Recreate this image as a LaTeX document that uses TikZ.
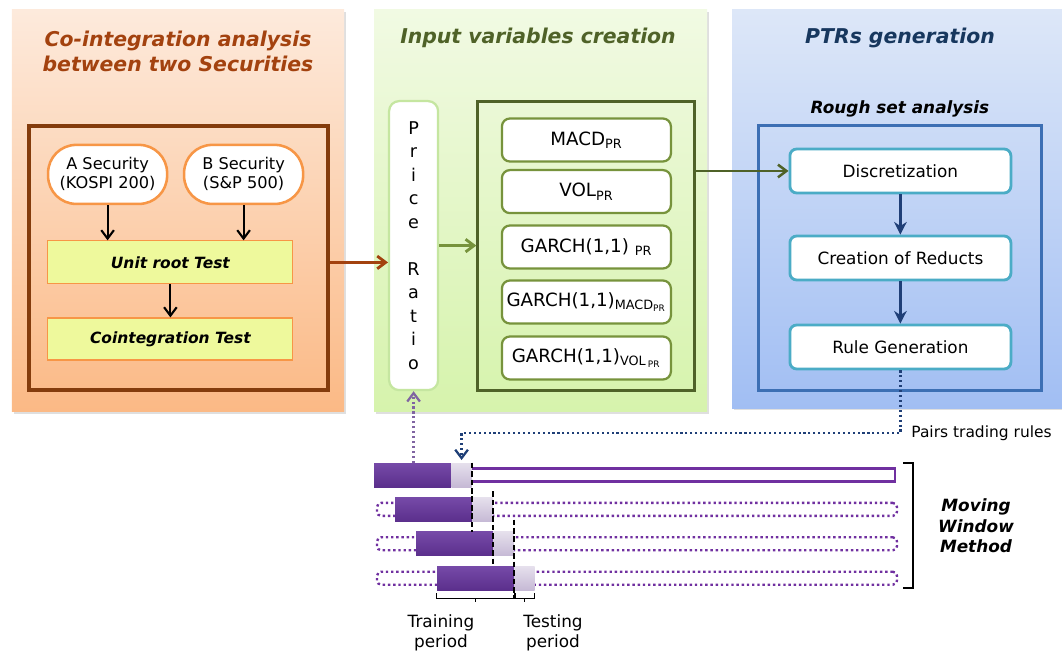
\documentclass[tikz,border=0pt]{standalone}
\usepackage{fontspec}
\setmainfont{DejaVu Sans}
\usepackage{xcolor}
\usetikzlibrary{positioning,arrows.meta,shadows}

\definecolor{peachtop}{HTML}{FDEADC}
\definecolor{peachbot}{HTML}{FBB985}
\definecolor{limetop}{HTML}{F1FAE3}
\definecolor{limebot}{HTML}{D6F3AC}
\definecolor{skytop}{HTML}{DDE7F8}
\definecolor{skybot}{HTML}{A1BEF3}
\definecolor{rust}{HTML}{A3420F}
\definecolor{bark}{HTML}{843C0C}
\definecolor{tangerine}{HTML}{F79646}
\definecolor{pale}{HTML}{EEF99C}
\definecolor{olive}{HTML}{4F6228}
\definecolor{leaf}{HTML}{77933C}
\definecolor{mint}{HTML}{C5E6A0}
\definecolor{navy}{HTML}{17375E}
\definecolor{steel}{HTML}{3C6FB4}
\definecolor{teal}{HTML}{4BACC6}
\definecolor{deepblue}{HTML}{1F3F77}
\definecolor{grape}{HTML}{7030A0}
\definecolor{plum}{HTML}{764AA8}
\definecolor{plumdark}{HTML}{5B2F8C}
\definecolor{lavender}{HTML}{8064A2}

\begin{document}
\begin{tikzpicture}[
  panel/.style={inner sep=0pt, minimum height=10.05cm,
    drop shadow={opacity=0.25, shadow xshift=0.06cm, shadow yshift=-0.06cm}},
  title/.style={font=\fontsize{14.5}{17.5}\selectfont\bfseries\itshape, align=center},
  boxtext/.style={font=\fontsize{12}{14}\selectfont},
  vartext/.style={font=\fontsize{13}{15}\selectfont},
  arr/.style={-{Straight Barb[length=6pt,width=9pt]}, line width=1.5pt},
  flow/.style={-{Stealth[length=9pt,width=9pt]}, line width=2.2pt, deepblue},
  train/.style={minimum width=1.925cm, minimum height=0.6cm, inner sep=0pt,
    top color=plum, bottom color=plumdark},
  test/.style={minimum width=0.5cm, minimum height=0.6cm, inner sep=0pt,
    top color=lavender!20!white, bottom color=lavender!45!white},
  track/.style={minimum height=0.325cm, inner sep=0pt, grape, line width=1.7pt},
  cut/.style={line width=1pt, dash pattern=on 4pt off 2pt},
  brk/.style={line width=0.7pt}
]
\useasboundingbox (0,0) rectangle (26.55,-16.375);

% three stages
\node[panel, minimum width=8.3cm, top color=peachtop, bottom color=peachbot] (stage1) at (4.45,-5.275) {};
\node[panel, minimum width=8.325cm, top color=limetop, bottom color=limebot] (stage2) at (13.5125,-5.275) {};
\node[panel, minimum width=8.25cm, minimum height=9.95cm, top color=skytop, bottom color=skybot] (stage3) at (22.425,-5.225) {};

\node[title, rust] (title1) at (4.45,-1.29) {Co-integration analysis\\between two Securities};
\node[title, olive] (title2) at (13.45,-0.95) {Input variables creation};
\node[title, navy] (title3) at (22.5,-0.95) {PTRs generation};

% co-integration
\node[draw=bark, line width=2.2pt, minimum width=7.475cm, minimum height=6.6cm] (coframe) at (4.4625,-6.45) {};
\node[draw=tangerine, line width=1.8pt, fill=white, rounded corners=0.7cm, minimum width=2.975cm, minimum height=1.475cm, align=center, font=\fontsize{11.5}{13.5}\selectfont] (asec) at (2.69,-4.36) {A Security\\(KOSPI 200)};
\node[draw=tangerine, line width=1.8pt, fill=white, rounded corners=0.7cm, minimum width=2.975cm, minimum height=1.475cm, align=center, font=\fontsize{11.5}{13.5}\selectfont] (bsec) at (6.09,-4.36) {B Security\\(S\&P 500)};
\node[draw=tangerine, line width=0.8pt, fill=pale, minimum width=6.125cm, minimum height=1.075cm, font=\fontsize{11}{13}\selectfont\bfseries\itshape] (unitroot) at (4.26,-6.56) {Unit root Test};
\node[draw=tangerine, line width=0.8pt, fill=pale, minimum width=6.125cm, minimum height=1.05cm, font=\fontsize{11}{13}\selectfont\bfseries\itshape] (coint) at (4.26,-8.475) {Cointegration Test};

\draw[arr] (asec) -- (unitroot.north -| asec);
\draw[arr] (bsec) -- (unitroot.north -| bsec);
\draw[arr] (unitroot) -- (coint);

% input variables
\node[draw=mint, line width=1.6pt, fill=white, rounded corners=0.25cm, minimum width=1.225cm, minimum height=7.225cm, align=center, font=\fontsize{12.5}{16.7}\selectfont] (ratio) at (10.34,-6.14) {P\\r\\i\\c\\e\\[16.7pt]R\\a\\t\\i\\o};
\node[draw=olive, line width=2.2pt, minimum width=5.425cm, minimum height=7.225cm] (varframe) at (14.66,-6.14) {};
\node[draw=leaf, line width=1.6pt, fill=white, rounded corners=0.2cm, minimum width=4.225cm, minimum height=1.075cm, vartext] (macd) at (14.66,-3.5) {MACD\textsubscript{PR}};
\node[draw=leaf, line width=1.6pt, fill=white, rounded corners=0.2cm, minimum width=4.225cm, minimum height=1.075cm, vartext] (vol) at (14.66,-4.79) {VOL\textsubscript{PR}};
\node[draw=leaf, line width=1.6pt, fill=white, rounded corners=0.2cm, minimum width=4.225cm, minimum height=1.075cm, vartext] (garch) at (14.66,-6.175) {GARCH(1,1)~\textsubscript{PR}};
\node[draw=leaf, line width=1.6pt, fill=white, rounded corners=0.2cm, minimum width=4.225cm, minimum height=1.075cm, inner sep=1pt, vartext] (garchmacd) at (14.66,-7.55) {GARCH(1,1)\textsubscript{MACD\textsubscript{PR}}};
\node[draw=leaf, line width=1.6pt, fill=white, rounded corners=0.2cm, minimum width=4.225cm, minimum height=1.075cm, vartext] (garchvol) at (14.66,-8.95) {GARCH(1,1)\textsubscript{VOL\,\textsubscript{PR}}};

% rough set analysis
\node[font=\fontsize{12}{14}\selectfont\bfseries\itshape] (rough) at (22.5,-2.725) {Rough set analysis};
\node[draw=steel, line width=2.2pt, minimum width=7.075cm, minimum height=6.625cm] (roughframe) at (22.49,-6.46) {};
\node[draw=teal, line width=2pt, fill=white, rounded corners=0.17cm, minimum width=5.525cm, minimum height=1.1cm, boxtext] (discret) at (22.51,-4.275) {Discretization};
\node[draw=teal, line width=2pt, fill=white, rounded corners=0.17cm, minimum width=5.525cm, minimum height=1.1cm, boxtext] (reducts) at (22.51,-6.45) {Creation of Reducts};
\node[draw=teal, line width=2pt, fill=white, rounded corners=0.17cm, minimum width=5.525cm, minimum height=1.1cm, boxtext] (rulegen) at (22.51,-8.675) {Rule Generation};

\draw[flow] (discret) -- (reducts);
\draw[flow] (reducts) -- (rulegen);

% links between stages
\draw[arr, rust, line width=2pt] (unitroot -| coframe.east) -- (unitroot -| ratio.west);
\draw[arr, leaf, line width=2pt] (ratio.east) -- (varframe.west);
\draw[arr, olive, line width=1.8pt] (discret -| varframe.east) -- (discret.west);

% moving windows
\node[track, draw, minimum width=10.6cm] (track1) at (17.075,-11.875) {};
\node[track, draw, dotted, rounded corners=3pt, minimum width=13cm] (track2) at (15.925,-12.735) {};
\node[track, draw, dotted, rounded corners=3pt, minimum width=13cm] (track3) at (15.925,-13.595) {};
\node[track, draw, dotted, rounded corners=3pt, minimum width=13cm] (track4) at (15.925,-14.455) {};

\node[train] (train1) at (10.3125,-11.875) {};
\node[test, right=0pt of train1] (test1) {};
\node[train] (train2) at (10.8375,-12.735) {};
\node[test, right=0pt of train2] (test2) {};
\node[train] (train3) at (11.3625,-13.595) {};
\node[test, right=0pt of train3] (test3) {};
\node[train] (train4) at (11.8875,-14.455) {};
\node[test, right=0pt of train4] (test4) {};

\draw[cut] (test1.north east) -- (test1.east |- train3.north);
\draw[cut] ([yshift=0.15cm]test2.north east) -- (test2.east |- train4.north);
\draw[cut] ([yshift=0.3cm]test3.north east) -- ([yshift=-0.2cm]test3.east |- train4.south);

\draw[brk] ([yshift=-0.075cm]train4.south west) |- ([yshift=-0.2cm]train4.south east) -- ([yshift=-0.075cm]train4.south east);
\draw[brk] ([yshift=-0.2cm]train4.south) -- ++(0,-0.1);
\draw[brk] ([xshift=0.04cm,yshift=-0.075cm]test4.south west) |- ([yshift=-0.2cm]test4.south east) -- ([yshift=-0.075cm]test4.south east);
\draw[brk] ([yshift=-0.2cm]test4.south) -- ++(0,-0.1);

\node[boxtext, align=center] (trainlbl) at (11.025,-15.825) {Training\\period};
\node[boxtext, align=center] (testlbl) at (13.825,-15.825) {Testing\\period};

\draw[line width=1.8pt] (22.575,-11.575) -- (22.825,-11.575) -- (22.825,-14.7) -- (22.575,-14.7);
\node[font=\fontsize{12}{14.5}\selectfont\bfseries\itshape, align=center] (mwm) at (24.4,-13.15) {Moving\\Window\\Method};

% rules feed back into the windows
\coordinate (turn) at (22.51,-10.825);
\coordinate (drop) at (test1.center |- 0,-11.5);
\draw[arr, dotted, deepblue, line width=1.6pt] (rulegen.south) -- (turn) -| (drop);
\node[font=\fontsize{11}{13}\selectfont, anchor=west] (rules) at ([xshift=0.15cm]turn) {Pairs trading rules};
\draw[arr, dotted, lavender, line width=1.6pt] (train1.north -| ratio.south) -- (ratio.south);

\end{tikzpicture}
\end{document}
